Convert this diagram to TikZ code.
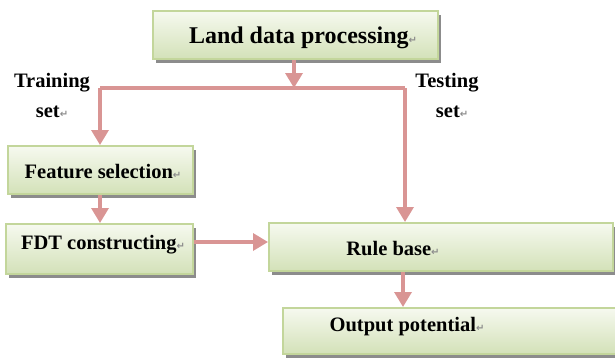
\documentclass[tikz,border=0pt]{standalone}
\usepackage{fontspec}
\setmainfont{Liberation Serif}
\newfontfamily\symfont{DejaVu Sans}
\usetikzlibrary{arrows.meta}
\definecolor{boxedge}{HTML}{C3D69B}
\definecolor{boxtop}{HTML}{F6F9EF}
\definecolor{boxbot}{HTML}{D3E1B8}
\definecolor{flow}{HTML}{D99594}
\newcommand{\pmark}{{\symfont\fontsize{10}{10}\selectfont\color{black!45}↵}}
\tikzset{
  boxnode/.style={draw=boxedge, line width=2.2pt, top color=boxtop, bottom color=boxbot,
    inner sep=0pt, anchor=north west,
    preaction={fill=black!45, transform canvas={shift={(3pt,-3.5pt)}}}},
  txt/.style={font=\bfseries\fontsize{20.5}{30}\selectfont, inner sep=0pt, align=center},
  flowline/.style={draw=flow, line width=3.4pt},
  flowarrow/.style={flowline, -{Triangle[length=15pt,width=17pt]}}
}
\begin{document}
\begin{tikzpicture}[x=1pt,y=-1pt]
\useasboundingbox (0,0) rectangle (615,361);
% boxes
\node[boxnode, minimum width=285pt, minimum height=48pt] (land) at (152,10) {};
\node[boxnode, minimum width=185pt, minimum height=48pt] (feat) at (7,145) {};
\node[boxnode, minimum width=187pt, minimum height=50pt] (fdt) at (5,223) {};
\node[boxnode, minimum width=344pt, minimum height=48pt] (rule) at (268,222) {};
\node[boxnode, minimum width=345pt, minimum height=46pt] (out) at (282,307) {};
% texts
\node[txt, font=\bfseries\fontsize{24}{28}\selectfont] (landt) at (303,38) {Land data processing\pmark};
\node[txt] (featt) at (103,172) {Feature selection\pmark};
\node[txt] (fdtt) at (103,245) {FDT constructing\pmark};
\node[txt] (rulet) at (393,249) {Rule base\pmark};
\node[txt] (outt) at (407,327) {Output potential\pmark};
\node[txt] (train) at (52,95) {Training\\set\pmark};
\node[txt] (test) at (447,95) {Testing\\\ \ set\pmark};
% connectors
\coordinate (junc) at (294,88);
\coordinate (jl) at (100,88);
\coordinate (jr) at (405,88);
\draw[flowarrow] (land.south -| junc) -- (junc);
\draw[flowline] (jl) -- (jr);
\draw[flowarrow] (jl) -- (jl |- feat.north);
\draw[flowarrow] (jr) -- (jr |- rule.north);
\draw[flowarrow] (feat.south -| jl) -- (jl |- fdt.north);
\draw[flowarrow] (fdt.east |- 0,242) -- (rule.west |- 0,242);
\draw[flowarrow] (rule.south -| 403,0) -- (out.north -| 403,0);
\end{tikzpicture}
\end{document}
